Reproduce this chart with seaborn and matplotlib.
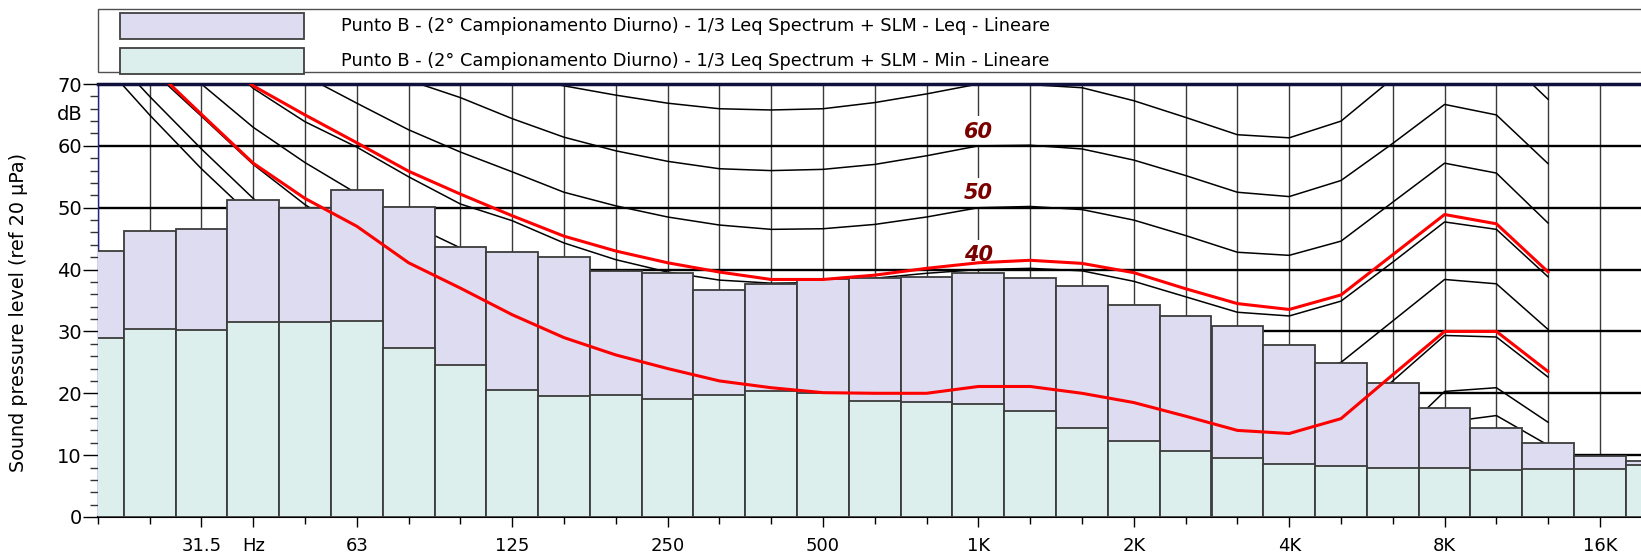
import numpy as np
import pandas as pd
import matplotlib
matplotlib.use("Agg")
import matplotlib.pyplot as plt
import matplotlib.transforms as mtransforms
from matplotlib.patches import Rectangle
import seaborn as sns

sns.set_theme(style="white")
plt.rcParams["font.family"] = ["DejaVu Sans"]
plt.rcParams.update({"text.color": "black", "axes.labelcolor": "black",
                     "xtick.color": "black", "ytick.color": "black"})

# 1/3 octave bands 20 Hz .. 20 kHz
bands = ["20", "25", "31.5", "40", "50", "63", "80", "100", "125", "160", "200",
         "250", "315", "400", "500", "630", "800", "1K", "1.25K", "1.6K", "2K",
         "2.5K", "3.15K", "4K", "5K", "6.3K", "8K", "10K", "12.5K", "16K", "20K"]

leq = [43.0, 46.2, 46.6, 51.2, 50.0, 52.9, 50.1, 43.7, 42.9, 42.0, 39.8,
       39.4, 36.7, 37.6, 38.4, 38.7, 38.8, 39.5, 38.7, 37.3, 34.2,
       32.5, 30.9, 27.8, 24.9, 21.6, 17.7, 14.4, 12.0, 9.8, 9.0]
lmin = [29.0, 30.4, 30.3, 31.6, 31.5, 31.7, 27.4, 24.6, 20.5, 19.5, 19.8,
        19.0, 19.8, 20.3, 20.1, 18.8, 18.6, 18.2, 17.1, 14.4, 12.3,
        10.7, 9.6, 8.5, 8.2, 7.9, 8.0, 7.6, 7.7, 7.8, 8.4]

# equal loudness contours, 20 Hz .. 12.5 kHz (band index 0..28)
maf = [74.3, 65.0, 56.3, 48.4, 41.7, 35.5, 29.8, 25.1, 20.7, 16.8, 13.8, 11.2, 8.9, 7.2, 6.0,
       5.0, 4.4, 4.2, 3.7, 2.6, 1.0, -1.2, -3.6, -3.9, -1.1, 6.6, 15.3, 16.4, 11.6]
phon10 = [77, 68, 59.5, 51.5, 44.5, 38.5, 32.5, 27.5, 23, 19, 16, 13.5, 11.5, 10.5, 10,
          9.8, 9.9, 10, 9.7, 8.8, 7.2, 4.8, 2.4, 2.0, 4.6, 12.2, 20.3, 20.9, 15.3]
phon20 = [82, 72.5, 64.8, 57.0, 50.5, 45, 40, 36, 32, 28.5, 25.8, 23.6, 21.8, 20.6, 19.8,
          19.6, 19.8, 20.0, 19.9, 19.0, 17.4, 15.0, 12.7, 12.4, 14.8, 22.0, 29.35, 29.1, 22.6]
phon30 = [86, 77.5, 70.0, 63.0, 57.3, 52.3, 47.5, 43.5, 40, 37, 34.5, 32.6, 31.2, 30.4, 29.9,
          29.7, 29.8, 30.0, 30.0, 29.4, 27.8, 25.4, 22.9, 22.5, 25.0, 31.7, 38.4, 37.7, 30.3]
phon40 = [90, 84, 77, 69.3, 63.9, 59.8, 55.0, 50.6, 47.9, 44.3, 41.6, 39.6, 38.3, 37.8, 37.9,
          38.6, 39.4, 40.0, 40.2, 39.8, 38.1, 35.6, 33.1, 32.5, 34.9, 41.2, 47.7, 46.5, 38.8]
phon50 = [93, 87, 82, 77, 71.3, 66.9, 62.6, 59.0, 55.8, 52.5, 50.3, 48.5, 47.2, 46.5, 46.6,
          47.3, 48.5, 50.0, 50.2, 49.7, 48.0, 45.5, 42.8, 42.3, 44.6, 50.9, 57.2, 55.6, 47.5]
phon60 = [96, 91, 86, 82, 78, 74, 70.6, 67.8, 64.4, 61.4, 59.2, 57.5, 56.3, 56.0, 56.2,
          57.0, 58.4, 60.0, 60.1, 59.5, 57.7, 55.2, 52.5, 51.8, 54.4, 60.4, 66.7, 65.0, 57.1]
phon70 = [100, 95, 90, 86, 82, 78.5, 75.5, 73, 71.2, 69.7, 68.2, 66.9, 66.0, 65.8, 66.0,
          67.0, 68.4, 70.0, 69.9, 69.4, 67.3, 64.6, 61.8, 61.3, 64.0, 70.9, 76.5, 75.5, 67.5]

# isophonic curves of the measured spectra (red)
red_upper = [90, 83, 76.5, 69.7, 65.0, 60.5, 55.9, 52.2, 48.7, 45.4, 43.0, 41.1, 39.6, 38.4, 38.4,
             39.1, 40.2, 41.1, 41.5, 41.0, 39.5, 36.9, 34.5, 33.55, 35.9, 42.4, 48.9, 47.4, 39.6]
red_lower = [82, 73.1, 65.1, 57.2, 51.5, 47.0, 41.1, 37.0, 32.7, 29.0, 26.2, 24.0, 22.0, 20.9, 20.1,
             20.0, 20.0, 21.1, 21.1, 20.0, 18.5, 16.3, 14.0, 13.5, 15.9, 23.0, 30.0, 30.0, 23.5]

contour_labels = ["60", "50", "40"]
contour_label_y = [62.3, 52.3, 42.35]

tick_labels = ["31.5", "Hz", "63", "125", "250", "500", "1K", "2K", "4K", "8K", "16K"]
tick_idx = [2, 3, 5, 8, 11, 14, 17, 20, 23, 26, 29]
grid_levels = [10, 20, 30, 40, 50, 60, 70]

legend_texts = [
    "Punto B - (2\u00b0 Campionamento Diurno) - 1/3 Leq Spectrum + SLM - Leq - Lineare",
    "Punto B - (2\u00b0 Campionamento Diurno) - 1/3 Leq Spectrum + SLM - Min - Lineare",
]

LEQ_COLOR = "#dddcf0"
MIN_COLOR = "#dcefec"
EDGE = "#3c3c3c"

W, H = 1641, 556
fig = plt.figure(figsize=(W / 100, H / 100), dpi=100)
ax_left, ax_top, ax_bottom = 97.8, 84, 517
ax = fig.add_axes([ax_left / W, (H - ax_bottom) / H, (W - ax_left) / W,
                   (ax_bottom - ax_top) / H])

df = pd.DataFrame({"band": bands, "leq": leq, "lmin": lmin})
sns.barplot(data=df, x="band", y="leq", order=bands, color=LEQ_COLOR, saturation=1,
            width=1.0, edgecolor=EDGE, linewidth=1.3, errorbar=None, ax=ax, zorder=3)
sns.barplot(data=df, x="band", y="lmin", order=bands, color=MIN_COLOR, saturation=1,
            width=1.0, edgecolor=EDGE, linewidth=1.3, errorbar=None, ax=ax, zorder=3)

idx = np.arange(len(maf))
for curve in [maf, phon10, phon20, phon30, phon40, phon50, phon60, phon70]:
    sns.lineplot(x=idx, y=curve, color="black", linewidth=1.1, ax=ax, zorder=2)
for curve in [red_upper, red_lower]:
    sns.lineplot(x=idx, y=curve, color="#ff0000", linewidth=2.2, ax=ax, zorder=5)

# labels on the 1 kHz line (white box hides the vertical grid line only)
for lab, yv in zip(contour_labels, contour_label_y):
    ax.text(17, yv, lab, ha="center", va="center", fontsize=15, fontweight="bold",
            fontstyle="italic", color="#7a0000", zorder=1.2,
            bbox=dict(boxstyle="square,pad=0.25", fc="white", ec="none"))

# 10 dB lines sit above the label boxes, below the curves and bars
for lvl in grid_levels:
    ax.axhline(lvl, color="black", linewidth=1.7, zorder=1.6)

ax.set_xlim(0, (W - ax_left) / 51.8)
ax.set_ylim(0, 70)
ax.set_xlabel("")
ax.set_ylabel("")

ax.set_xticks(tick_idx)
ax.set_xticklabels(tick_labels)
ax.set_xticks([i for i in range(30) if i not in tick_idx], minor=True)
ax.set_yticks(range(0, 71, 10))
ax.set_yticks([v for v in range(0, 71, 2) if v % 10], minor=True)

ax.tick_params(axis="x", which="major", bottom=True, direction="out", length=7.5,
               width=1, pad=7, labelsize=13)
ax.tick_params(axis="x", which="minor", bottom=True, direction="out", length=5, width=1)
ax.tick_params(axis="y", which="major", left=True, direction="out", length=10.5,
               width=1, pad=1, labelsize=14)
ax.tick_params(axis="y", which="minor", left=True, direction="out", length=5.5, width=1,
               color="#333333")

ax.set_axisbelow(True)
ax.xaxis.grid(True, which="both", color="#3a3a3a", linewidth=1.0)

ax.spines["right"].set_visible(False)
ax.spines["left"].set_color("#22228a")
ax.spines["left"].set_linewidth(1.0)
ax.spines["bottom"].set_color("black")
ax.spines["bottom"].set_linewidth(1.5)
ax.spines["top"].set_color("#10103c")
ax.spines["top"].set_linewidth(2.5)

# "dB" unit next to the y tick labels
trans = mtransforms.blended_transform_factory(ax.transAxes, ax.transData) + \
    mtransforms.ScaledTranslation(-15.5 / 100, 0, fig.dpi_scale_trans)
ax.text(0, 65, "dB", transform=trans, ha="right", va="center", fontsize=14)

fig.text(19 / W, 1 - 312 / H, "Sound pressure level (ref 20 \u00b5Pa)", rotation=90,
         ha="center", va="center", fontsize=13.8)

# legend box drawn across the top
fig.add_artist(Rectangle((98 / W, 1 - 72 / H), 1.0, 63.5 / H, transform=fig.transFigure,
                         fc="white", ec="#505050", lw=1.0))
for row, (txt, col) in enumerate(zip(legend_texts, [LEQ_COLOR, MIN_COLOR])):
    top = 13.5 + row * 34.5
    fig.add_artist(Rectangle((120 / W, 1 - (top + 25.5) / H), 183.5 / W, 25.5 / H,
                             transform=fig.transFigure, fc=col, ec="#404040", lw=1.3))
    fig.text(341 / W, 1 - (top + 12.5) / H, txt, ha="left", va="center", fontsize=12.8)

fig.savefig("out.png", dpi=100)
